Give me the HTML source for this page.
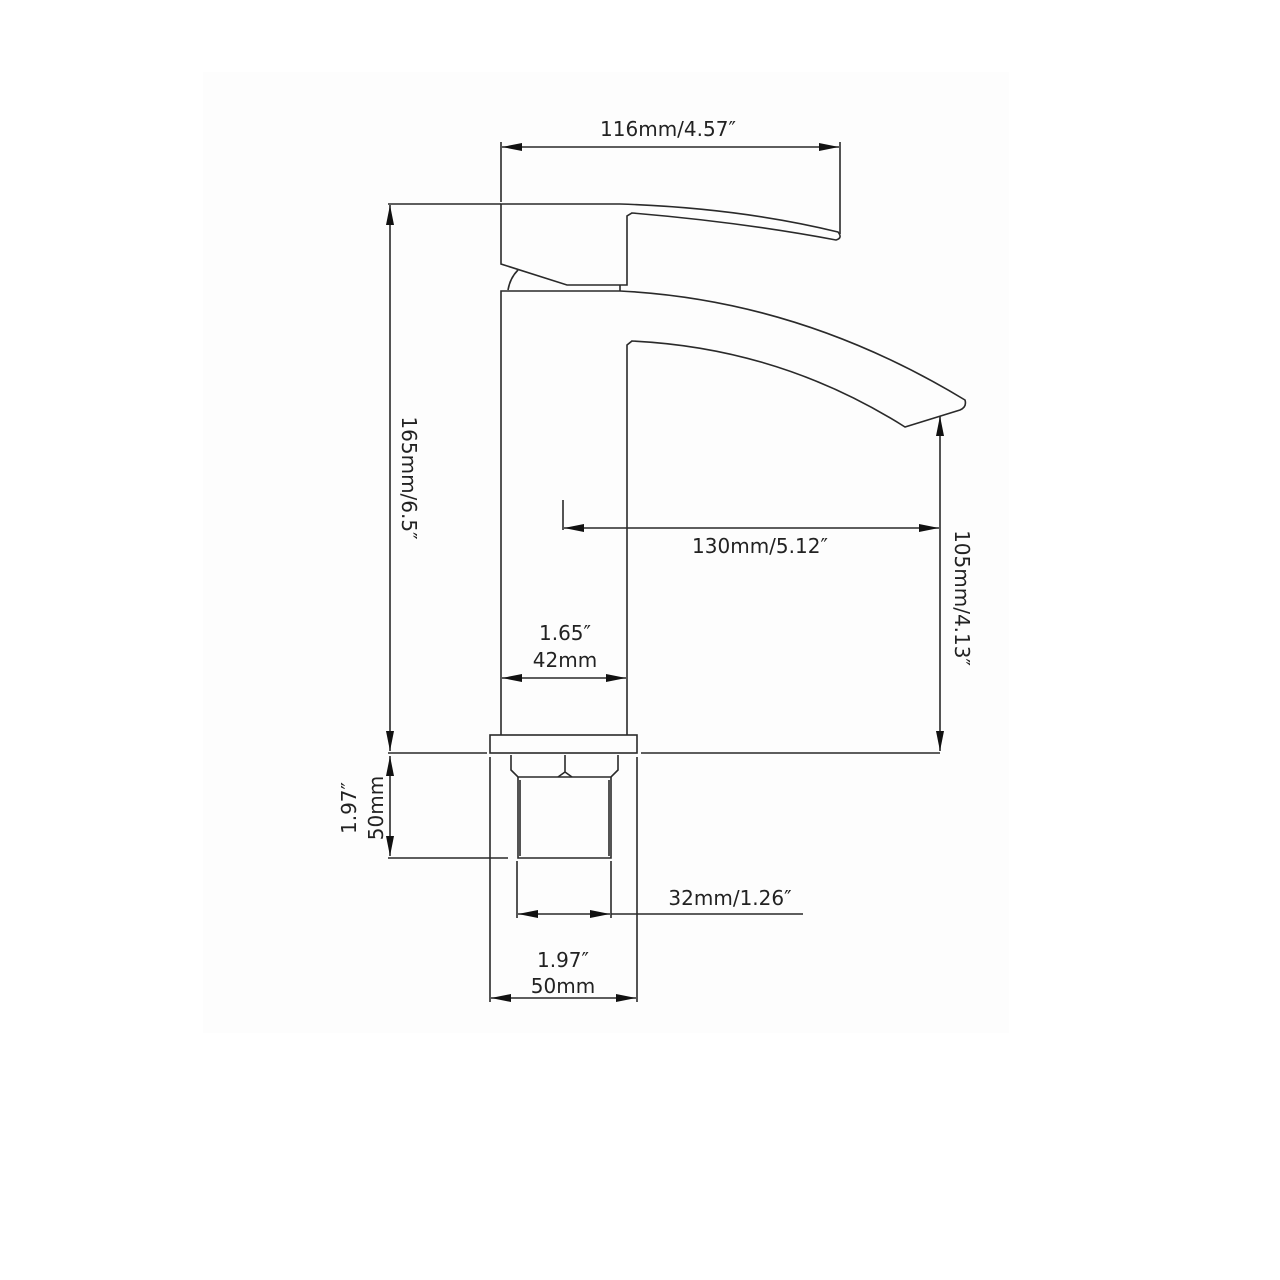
<!DOCTYPE html>
<html><head><meta charset="utf-8"><style>
html,body{margin:0;padding:0;background:#fff;}
svg{display:block;}
text{font-family:"DejaVu Sans","Liberation Sans",sans-serif;font-size:20px;fill:#222;}
</style></head><body>
<svg width="1280" height="1280" viewBox="0 0 1280 1280" xmlns="http://www.w3.org/2000/svg">
<defs>
<marker id="a" viewBox="0 0 20 8" refX="20" refY="4" markerWidth="20" markerHeight="8" markerUnits="userSpaceOnUse" orient="auto-start-reverse">
<path d="M0,0 L20,4 L0,8 Z" fill="#111"/></marker>
</defs>
<rect x="203" y="72" width="806" height="961" fill="#fdfdfd"/>
<g stroke="#2a2a2a" stroke-width="1.6" fill="none">
<line x1="501" y1="142" x2="501" y2="202"/>
<line x1="840" y1="142" x2="840" y2="234"/>
<line x1="502" y1="147" x2="839" y2="147" marker-start="url(#a)" marker-end="url(#a)"/>
<line x1="388" y1="204" x2="501" y2="204"/>
<line x1="390" y1="205" x2="390" y2="751" marker-start="url(#a)" marker-end="url(#a)"/>
<path d="M501,204 L620,204 Q740,208 838,232 Q843,238 836,240 Q740,222 632,213 L627,216 L627,285 L567,285 L501,264 Z"/>
<path d="M508,290 Q510,278 518,270"/>
<line x1="620" y1="285" x2="620" y2="291"/>
<path d="M501,735 L501,291 L620,291 Q800,300 965,400 Q967,407 960,410 L905,427 Q780,348 632,341 L627,345 L627,735"/>
<rect x="490" y="735" width="147" height="18"/>
<line x1="388" y1="753" x2="487" y2="753"/>
<line x1="641" y1="753" x2="940" y2="753"/>
<path d="M511,755 L511,770 L518,777 L611,777 L618,770 L618,755"/>
<path d="M565,755 L565,772 L558,777 M565,772 L572,777"/>
<path d="M518,777 L518,858 L611,858 L611,777"/>
<line x1="520" y1="780" x2="520" y2="856"/>
<line x1="609" y1="780" x2="609" y2="856"/>
<line x1="390" y1="756" x2="390" y2="856" marker-start="url(#a)" marker-end="url(#a)"/>
<line x1="388" y1="858" x2="508" y2="858"/>
<line x1="490" y1="757" x2="490" y2="1002"/>
<line x1="637" y1="757" x2="637" y2="1002"/>
<line x1="517" y1="861" x2="517" y2="918"/>
<line x1="611" y1="861" x2="611" y2="918"/>
<line x1="518" y1="914" x2="610" y2="914" marker-start="url(#a)" marker-end="url(#a)"/>
<line x1="611" y1="914" x2="803" y2="914"/>
<line x1="491" y1="998" x2="636" y2="998" marker-start="url(#a)" marker-end="url(#a)"/>
<line x1="502" y1="678" x2="626" y2="678" marker-start="url(#a)" marker-end="url(#a)"/>
<line x1="563" y1="500" x2="563" y2="530"/>
<line x1="564" y1="528" x2="939" y2="528" marker-start="url(#a)" marker-end="url(#a)"/>
<line x1="940" y1="416" x2="940" y2="751" marker-start="url(#a)" marker-end="url(#a)"/>
</g>
<text x="668" y="136" text-anchor="middle">116mm/4.57″</text>
<text transform="translate(402,478) rotate(90)" text-anchor="middle">165mm/6.5″</text>
<text x="760" y="553" text-anchor="middle">130mm/5.12″</text>
<text transform="translate(955,598) rotate(90)" text-anchor="middle">105mm/4.13″</text>
<text x="565" y="640" text-anchor="middle">1.65″</text>
<text x="565" y="667" text-anchor="middle">42mm</text>
<text transform="translate(356,808) rotate(-90)" text-anchor="middle">1.97″</text>
<text transform="translate(383,808) rotate(-90)" text-anchor="middle">50mm</text>
<text x="730" y="905" text-anchor="middle">32mm/1.26″</text>
<text x="563" y="967" text-anchor="middle">1.97″</text>
<text x="563" y="993" text-anchor="middle">50mm</text>
</svg>
</body></html>
